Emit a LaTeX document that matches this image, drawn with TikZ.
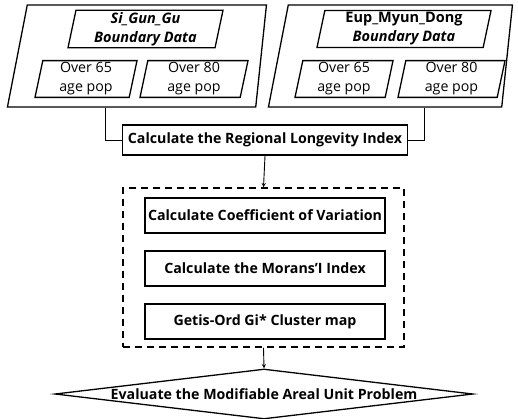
\documentclass[tikz,border=0pt]{standalone}
\usepackage{fontspec}
\setmainfont{Open Sans}
\usetikzlibrary{shapes.geometric}

\begin{document}
\begin{tikzpicture}[x=1pt, y=-1pt, >=stealth,
        frame/.style={trapezium, draw, line width=1.3pt, trapezium left angle=79, trapezium right angle=96, trapezium stretches body, inner xsep=0pt, inner ysep=51pt},
        para/.style={trapezium, draw, line width=1.3pt, trapezium left angle=78, trapezium right angle=102, trapezium stretches body, inner xsep=0pt, inner ysep=2pt, align=center, font=\fontsize{14.2}{19}\selectfont},
        stepbox/.style={rectangle, draw, line width=1.3pt, minimum width=240pt, minimum height=35pt, inner sep=0pt, font=\bfseries\fontsize{14.2}{16}\selectfont},
        link/.style={line width=0.9pt}]
        \useasboundingbox (0,0) rectangle (518,418);

        % Nodes
        \node[frame, minimum width=259pt] (sgg) at (141.5,56) {};
        \node[frame, minimum width=244pt] (emd) at (395,56) {};
        \node[para, minimum width=155pt, font=\bfseries\itshape\fontsize{14.5}{19}\selectfont] (sggdata) at (145.5,29) {Si\_Gun\_Gu\\Boundary Data};
        \node[para, minimum width=174pt, font=\bfseries\fontsize{14.5}{19}\selectfont] (emddata) at (404,29) {Eup\_Myun\_Dong\\\textit{Boundary Data}};
        \node[para, minimum width=102pt] (sgg65) at (86,79) {Over 65\\age pop};
        \node[para, minimum width=108pt] (sgg80) at (194,79) {Over 80\\age pop};
        \node[para, minimum width=98pt] (emd65) at (344,79) {Over 65\\age pop};
        \node[para, minimum width=107pt] (emd80) at (451.5,79) {Over 80\\age pop};

        \node[stepbox, minimum width=285pt, minimum height=30pt] (rli) at (265,140) {Calculate the Regional Longevity Index};
        \node[draw, line width=1.5pt, dash pattern=on 7pt off 5pt, minimum width=281pt, minimum height=159pt] (spatial) at (263.5,267.5) {};
        \node[stepbox] (cv) at (265,215.5) {Calculate Coefficient of Variation};
        \node[stepbox] (moran) at (265,268.5) {Calculate the Morans’I Index};
        \node[stepbox] (getis) at (265,321.5) {Getis-Ord Gi* Cluster map};
        \node[diamond, draw, line width=1.3pt, minimum width=418pt, minimum height=50pt, inner sep=0pt] (maup) at (264,394) {};
        \node[font=\bfseries\fontsize{14.2}{16}\selectfont, inner sep=0pt] (maupt) at (maup.center) {Evaluate the Modifiable Areal Unit Problem};

        % Edges
        \draw[link] ([xshift=-36.5pt]sgg.south) |- (rli.west);
        \draw[link] ([xshift=29pt]emd.south) |- (rli.east);
        \draw[link, ->] (rli.south) -- (spatial.north);
        \draw[link, ->] (spatial.south) -- (maup.north);
    \end{tikzpicture}
\end{document}
